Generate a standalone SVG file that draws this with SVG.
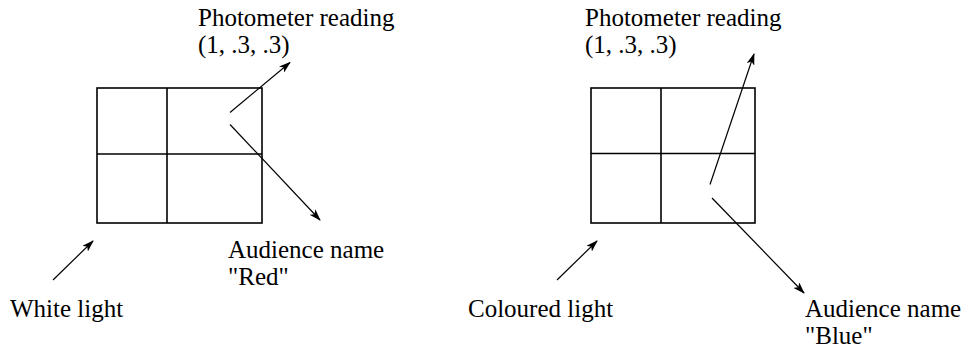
<svg xmlns="http://www.w3.org/2000/svg" width="965" height="348" viewBox="0 0 965 348">
<style>
.grid{fill:none;stroke:#000;stroke-width:1.6}
.arr{fill:none;stroke:#000;stroke-width:1.2;marker-end:url(#ah)}
text{font-family:"Liberation Serif","Times New Roman",serif;font-size:25px;fill:#000}
</style>
<defs>
<marker id="ah" viewBox="0 0 12 8" refX="11" refY="4" markerWidth="12" markerHeight="8" markerUnits="userSpaceOnUse" orient="auto">
<path d="M0,0 L12,4 L0,8 L3,4 z" fill="#000"/>
</marker>
</defs>
<g id="grid-left">
<rect class="grid" x="97" y="88" width="165" height="135"/>
<line class="grid" x1="167" y1="88" x2="167" y2="223"/>
<line class="grid" x1="97" y1="154" x2="262" y2="154"/>
</g>
<g id="grid-right">
<rect class="grid" x="591" y="88" width="164" height="135"/>
<line class="grid" x1="661" y1="88" x2="661" y2="223"/>
<line class="grid" x1="591" y1="153.5" x2="755" y2="153.5"/>
</g>
<g id="label-photometer-left">
<text x="198" y="26">Photometer reading</text>
<text x="198" y="53">(1, .3, .3)</text>
</g>
<g id="label-audience-red">
<text x="228" y="258">Audience name</text>
<text x="228" y="285">"Red"</text>
</g>
<g id="label-white">
<text x="10" y="317">White light</text>
</g>
<g id="label-photometer-right">
<text x="585" y="26">Photometer reading</text>
<text x="585" y="53">(1, .3, .3)</text>
</g>
<g id="label-coloured">
<text x="468" y="317">Coloured light</text>
</g>
<g id="label-audience-blue">
<text x="805" y="317">Audience name</text>
<text x="805" y="344">"Blue"</text>
</g>
<g id="connectors">
<line class="arr" x1="230" y1="112.5" x2="290" y2="62.5"/>
<line class="arr" x1="230" y1="124.5" x2="320" y2="220"/>
<line class="arr" x1="53" y1="280" x2="93" y2="241"/>
<line class="arr" x1="710" y1="184.5" x2="754" y2="54"/>
<line class="arr" x1="712" y1="198" x2="804" y2="293"/>
<line class="arr" x1="557" y1="280" x2="597" y2="241"/>
</g>
</svg>
